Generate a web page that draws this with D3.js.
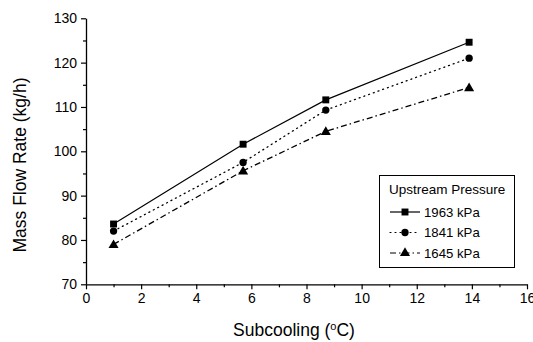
<!DOCTYPE html>
<html>
<head>
<meta charset="utf-8">
<script src="https://cdn.jsdelivr.net/npm/d3@7"></script>
<style>
  body { margin: 0; background: #fff; }
  svg { font-family: "Liberation Sans", Arial, sans-serif; }
</style>
</head>
<body>
<svg width="533" height="342"></svg>
<script>
// data
var subcooling = [1, 5.7, 8.7, 13.9];
var flow1963 = [83.6, 101.6, 111.6, 124.6];
var flow1841 = [82.0, 97.5, 109.3, 121.0];
var flow1645 = [79.0, 95.6, 104.5, 114.4];
var seriesNames = ['1963 kPa', '1841 kPa', '1645 kPa'];
var xTicks = [0, 2, 4, 6, 8, 10, 12, 14, 16];
var yTicks = [70, 80, 90, 100, 110, 120, 130];

var svg = d3.select('svg');

var x = d3.scaleLinear().domain([0, 16]).range([86, 527]);
var y = d3.scaleLinear().domain([70, 130]).range([284.3, 18.3]);

var series = [
    {name: seriesNames[0], values: flow1963, dash: null, symbol: d3.symbolSquare, size: 48},
    {name: seriesNames[1], values: flow1841, dash: '1,4', symbol: d3.symbolCircle, size: 42},
    {name: seriesNames[2], values: flow1645, dash: '6,3,1.5,3', symbol: d3.symbolTriangle, size: 44}
];

// minor ticks first
var xMinor = d3.axisBottom(x).tickValues(d3.range(1, 16, 2)).tickSize(3).tickFormat('');
svg.append('g').attr('transform', 'translate(0,284.3)').call(xMinor)
    .call(function (g) { g.select('.domain').remove(); })
    .selectAll('line').attr('stroke-width', 1.2);
var yMinor = d3.axisLeft(y).tickValues(d3.range(75, 130, 10)).tickSize(3).tickFormat('');
svg.append('g').attr('transform', 'translate(86,0)').call(yMinor)
    .call(function (g) { g.select('.domain').remove(); })
    .selectAll('line').attr('stroke-width', 1.2);

var xAxis = d3.axisBottom(x).tickValues(xTicks).tickSize(5).tickSizeOuter(0).tickPadding(4);
var xg = svg.append('g').attr('transform', 'translate(0,284.3)').call(xAxis);
xg.select('.domain').attr('stroke-width', 1.3);
xg.selectAll('line').attr('stroke-width', 1.2);
xg.selectAll('text').attr('font-size', 14).attr('font-family', '"Liberation Sans", Arial, sans-serif').attr('fill', '#000');

var yAxis = d3.axisLeft(y).tickValues(yTicks).tickSize(5).tickSizeOuter(0).tickPadding(4);
var yg = svg.append('g').attr('transform', 'translate(86,0)').call(yAxis);
yg.select('.domain').attr('stroke-width', 1.3);
yg.selectAll('line').attr('stroke-width', 1.2);
yg.selectAll('text').attr('font-size', 14).attr('font-family', '"Liberation Sans", Arial, sans-serif').attr('fill', '#000');

// axis titles
svg.append('text')
    .attr('transform', 'translate(26,165)rotate(-90)')
    .attr('text-anchor', 'middle')
    .attr('font-size', 17.5)
    .text('Mass Flow Rate (kg/h)');

var xt = svg.append('text')
    .attr('x', 294).attr('y', 336)
    .attr('text-anchor', 'middle')
    .attr('font-size', 17.5);
xt.append('tspan').text('Subcooling (');
xt.append('tspan').attr('font-size', 11).attr('dy', -6).text('o');
xt.append('tspan').attr('dy', 6).text('C)');

// lines and markers
var line = d3.line()
    .x(function (d, i) { return x(subcooling[i]); })
    .y(function (d) { return y(d); });

series.forEach(function (s) {
    svg.append('path')
        .datum(s.values)
        .attr('fill', 'none')
        .attr('stroke', '#000')
        .attr('stroke-width', s.dash ? 1.3 : 1.2)
        .attr('stroke-dasharray', s.dash)
        .attr('stroke-linecap', s.dash === '1,4' ? 'round' : 'butt')
        .attr('d', line);
    svg.append('g').selectAll('path')
        .data(s.values)
        .enter()
        .append('path')
        .attr('d', d3.symbol().type(s.symbol).size(s.size))
        .attr('transform', function (d, i) {
            var dy = s.symbol === d3.symbolTriangle ? 0.8 : 0;
            return 'translate(' + x(subcooling[i]) + ',' + (y(d) + dy) + ')';
        })
        .attr('fill', '#000');
});

// legend
var legend = svg.append('g');
legend.append('rect')
    .attr('x', 379.5).attr('y', 175.5)
    .attr('width', 135).attr('height', 92)
    .attr('fill', '#fff').attr('stroke', '#000').attr('stroke-width', 1);
legend.append('text')
    .attr('x', 389).attr('y', 194)
    .attr('font-size', 13.5)
    .text('Upstream Pressure');

series.forEach(function (s, i) {
    var ly = 212 + i * 20.5;
    legend.append('line')
        .attr('x1', 390).attr('x2', 420)
        .attr('y1', ly).attr('y2', ly)
        .attr('stroke', '#000')
        .attr('stroke-width', 1.2)
        .attr('stroke-dasharray', s.dash)
        .attr('stroke-linecap', s.dash === '1,4' ? 'round' : 'butt');
    legend.append('path')
        .attr('d', d3.symbol().type(s.symbol).size(s.size))
        .attr('transform', 'translate(405,' + ly + ')')
        .attr('fill', '#000');
    legend.append('text')
        .attr('x', 424).attr('y', ly + 4.7)
        .attr('font-size', 13.2)
        .text(s.name);
});
</script>
</body>
</html>
